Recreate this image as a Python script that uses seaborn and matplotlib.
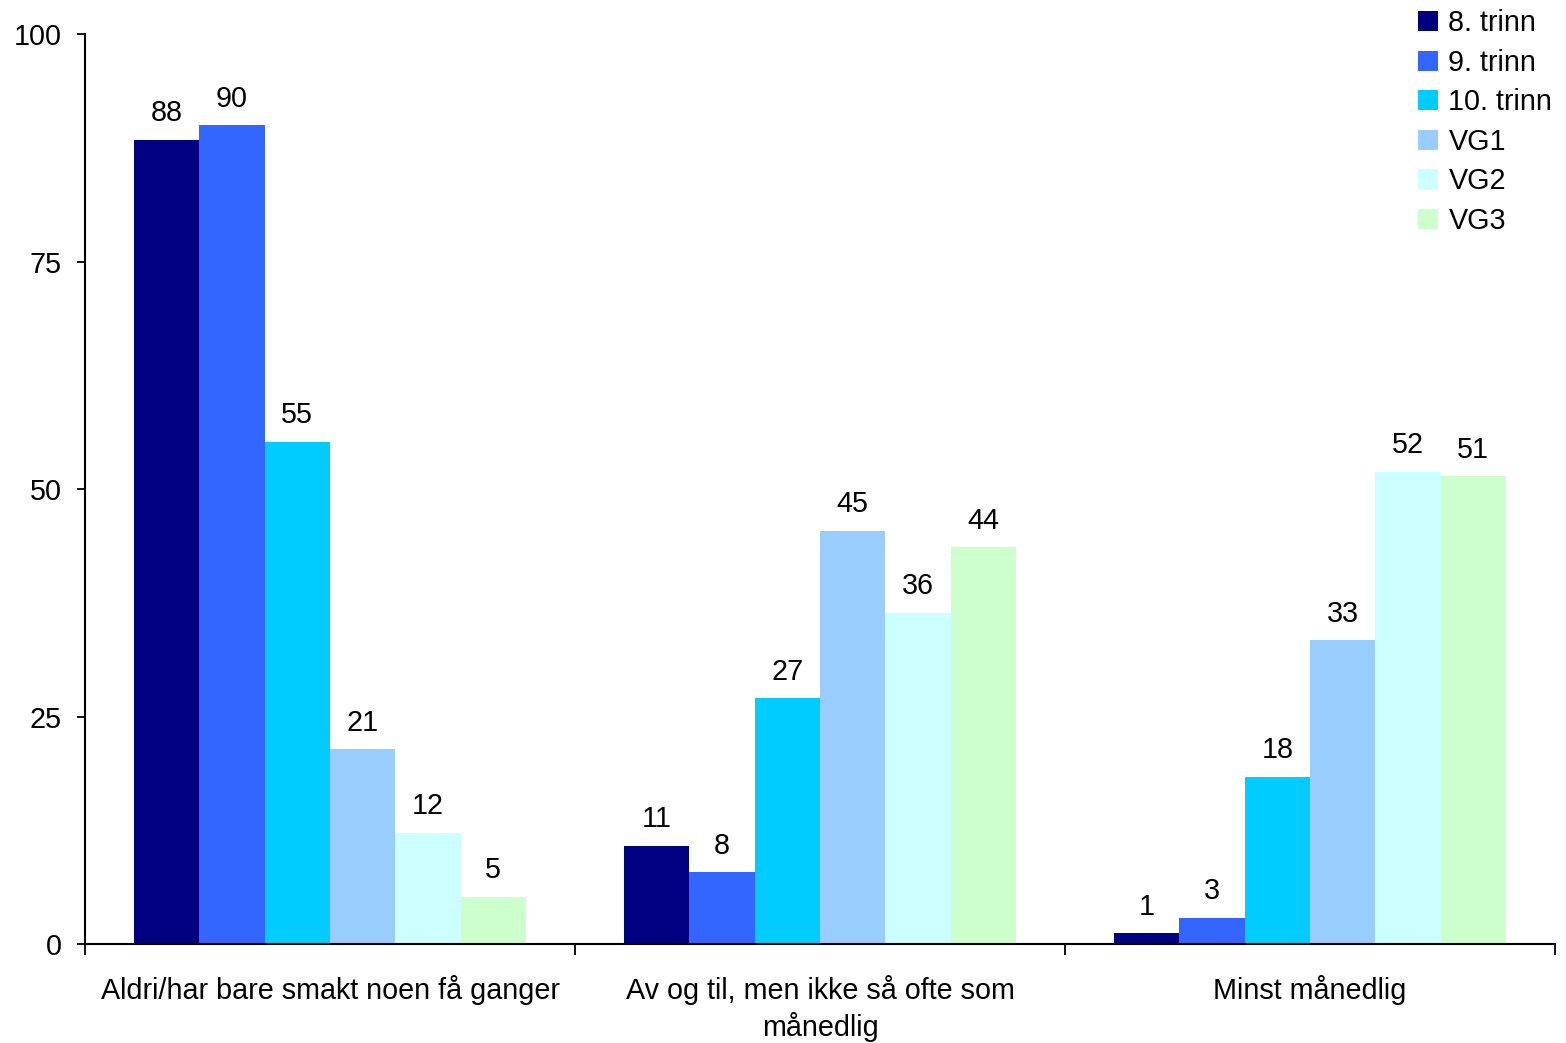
import matplotlib
matplotlib.use("Agg")
import matplotlib.pyplot as plt
import pandas as pd
import seaborn as sns

# data
categories = ["Aldri/har bare smakt noen få ganger",
              "Av og til, men ikke så ofte som\nmånedlig",
              "Minst månedlig"]
grades = ["8. trinn", "9. trinn", "10. trinn", "VG1", "VG2", "VG3"]
values = {
    "8. trinn": [88.4, 10.8, 1.2],
    "9. trinn": [90.0, 7.9, 2.9],
    "10. trinn": [55.2, 27.0, 18.4],
    "VG1": [21.4, 45.4, 33.4],
    "VG2": [12.2, 36.4, 51.9],
    "VG3": [5.2, 43.6, 51.4],
}
colors = ["#000080", "#3366FF", "#00CCFF", "#99CCFF", "#CCFFFF", "#CCFFCC"]
yticks = [0, 25, 50, 75, 100]

df = pd.DataFrame([(c, g, values[g][i]) for g in grades
                   for i, c in enumerate(categories)],
                  columns=["kategori", "trinn", "andel"])

FS = 20.7
sns.set_theme(style="white")
plt.rcParams["font.family"] = ["Liberation Sans", "DejaVu Sans"]
plt.rcParams["text.color"] = "black"
plt.rcParams["xtick.color"] = "black"
plt.rcParams["ytick.color"] = "black"

fig = plt.figure(figsize=(15.66, 10.43), dpi=100)
ax = fig.add_axes([0.0543, 0.0949, 0.9387, 0.8725])

sns.barplot(data=df, x="kategori", y="andel", hue="trinn", order=categories,
            hue_order=grades, palette=colors, saturation=1, width=0.8,
            ax=ax, linewidth=0)

for cont in ax.containers:
    ax.bar_label(cont, labels=[f"{v:.0f}" for v in cont.datavalues],
                 padding=9, fontsize=FS, color="black")

ax.set_xlim(-0.5, 2.5)
ax.set_ylim(0, 100)
ax.set_yticks(yticks)
ax.set_xticks([-0.5, 0.5, 1.5, 2.5])
ax.set_xticklabels([])
ax.set_xticks(range(len(categories)), minor=True)
ax.set_xticklabels(categories, minor=True, fontsize=FS, linespacing=1.3)
ax.tick_params(axis="x", which="major", length=8, width=1.3, direction="out",
               bottom=True)
ax.tick_params(axis="x", which="minor", length=0, pad=22)
ax.tick_params(axis="y", length=6, width=1.3, direction="out", left=True,
               labelsize=FS, pad=11)
ax.set_xlabel("")
ax.set_ylabel("")
for s in ["top", "right"]:
    ax.spines[s].set_visible(False)
for s in ["left", "bottom"]:
    ax.spines[s].set_color("black")
    ax.spines[s].set_linewidth(1.5)

ax.legend(loc="upper left", bbox_to_anchor=(0.8983, 1.002),
          bbox_transform=fig.transFigure, frameon=False, fontsize=FS,
          handlelength=0.7, handleheight=0.7, handletextpad=0.35,
          labelspacing=0.40, borderaxespad=0)

fig.savefig("out.png", dpi=100)
